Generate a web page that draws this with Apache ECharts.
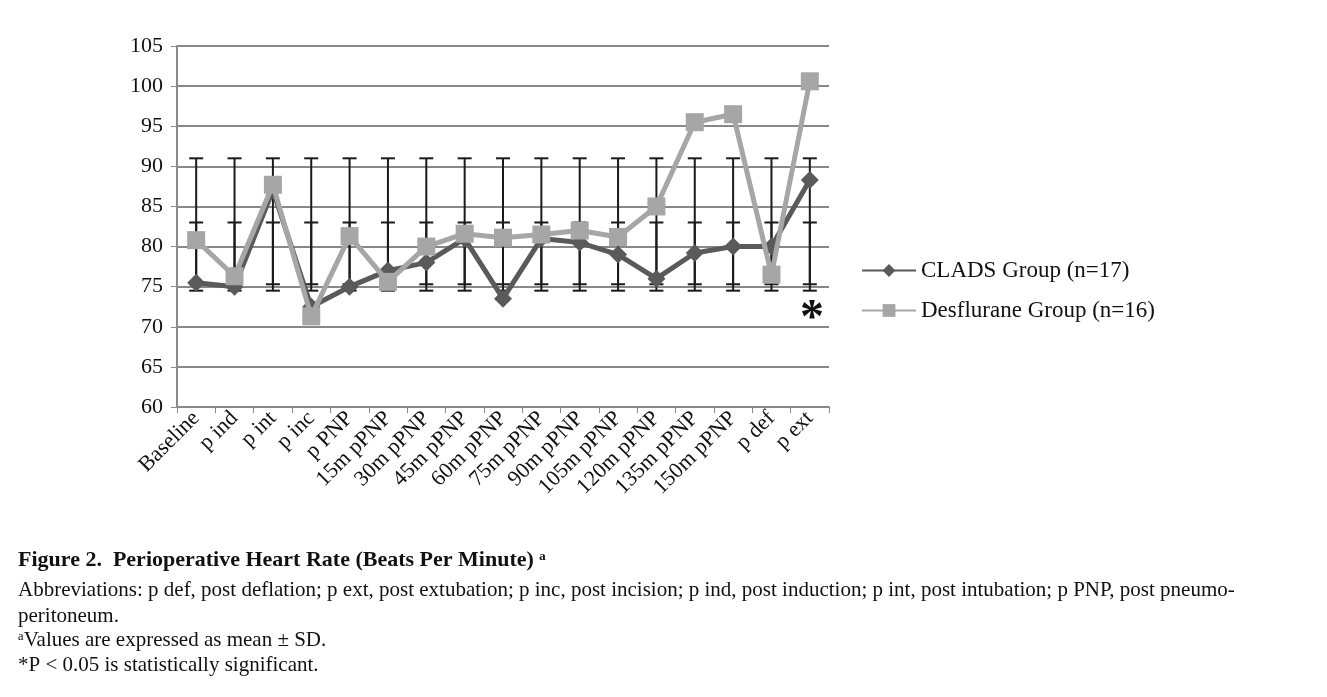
<!DOCTYPE html>
<html>
<head>
<meta charset="UTF-8">
<script src="https://cdn.jsdelivr.net/npm/echarts@6/dist/echarts.min.js"></script>
<style>body{margin:0;background:#fff}#main{width:1327px;height:697px}</style>
</head>
<body>
<div id="main"></div>
<script>
var categories = ['Baseline','p ind','p int','p inc','p PNP','15m pPNP','30m pPNP','45m pPNP','60m pPNP','75m pPNP','90m pPNP','105m pPNP','120m pPNP','135m pPNP','150m pPNP','p def','p ext'];
var clads = [75.5,75,87,72.5,75,77,78,81,73.5,81,80.5,79,76,79.2,80,80,88.3];
var desflurane = [80.8,76.3,87.7,71.3,81.3,75.6,80,81.6,81.1,81.5,82,81.2,85,95.5,96.5,76.5,100.6];
// error bar ranges (low, high) as drawn
var errA = [74.5, 91];
var errB = [75.3, 83];

var font = '"Liberation Serif", "Times New Roman", serif';
var chart = echarts.init(document.getElementById('main'));

function errItem(params, api) {
  var x = api.coord([api.value(0), api.value(1)])[0];
  var lo = api.coord([api.value(0), api.value(1)])[1];
  var hi = api.coord([api.value(0), api.value(2)])[1];
  var s = {stroke: '#1a1a1a', lineWidth: 2};
  return {type: 'group', children: [
    {type: 'line', shape: {x1: x, y1: lo, x2: x, y2: hi}, style: s},
    {type: 'line', shape: {x1: x - 7, y1: lo, x2: x + 7, y2: lo}, style: s},
    {type: 'line', shape: {x1: x - 7, y1: hi, x2: x + 7, y2: hi}, style: s}
  ]};
}

chart.setOption({
  animation: false,
  textStyle: {fontFamily: font},
  grid: {left: 177, right: 498, top: 46, bottom: 290},
  legend: {
    orient: 'vertical', left: 856, top: 254, itemGap: 17,
    itemWidth: 54, itemHeight: 16,
    textStyle: {fontFamily: font, fontSize: 23, color: '#111'},
    data: ['CLADS Group (n=17)', 'Desflurane Group (n=16)']
  },
  xAxis: {
    type: 'category', data: categories, boundaryGap: true,
    axisLine: {lineStyle: {color: '#888', width: 2}},
    axisTick: {show: true, length: 6, lineStyle: {color: '#888'}},
    axisLabel: {rotate: 45, fontSize: 22, color: '#111', fontFamily: font, interval: 0, margin: 8}
  },
  yAxis: {
    type: 'value', min: 60, max: 105, interval: 5,
    axisLine: {show: true, lineStyle: {color: '#888', width: 2}},
    axisTick: {show: true, length: 6, lineStyle: {color: '#888'}},
    axisLabel: {fontSize: 22, color: '#111', fontFamily: font, margin: 14},
    splitLine: {lineStyle: {color: '#888', width: 2}}
  },
  series: [
    {type: 'custom', renderItem: errItem, z: 1,
     data: categories.map(function (c, i) { return [i, errA[0], errA[1]]; })},
    {type: 'custom', renderItem: errItem, z: 1,
     data: categories.map(function (c, i) { return [i, errB[0], errB[1]]; })},
    {name: 'CLADS Group (n=17)', type: 'line', data: clads, z: 3,
     symbol: 'diamond', symbolSize: 18, itemStyle: {color: '#5a5a5a'},
     lineStyle: {color: '#5a5a5a', width: 5}},
    {name: 'Desflurane Group (n=16)', type: 'line', data: desflurane, z: 4,
     symbol: 'rect', symbolSize: 18, itemStyle: {color: '#a6a6a6'},
     lineStyle: {color: '#a6a6a6', width: 5}}
  ],
  graphic: [
    {type: 'text', left: 800, top: 296, style: {text: '*', font: 'bold 48px ' + font, fill: '#111'}},
    {type: 'text', left: 18, top: 549, style: {text: 'Figure 2.  Perioperative Heart Rate (Beats Per Minute) \u1d43', font: 'bold 22px ' + font, fill: '#111'}},
    {type: 'text', left: 18, top: 580, style: {text: 'Abbreviations: p def, post deflation; p ext, post extubation; p inc, post incision; p ind, post induction; p int, post intubation; p PNP, post pneumo-', font: '21px ' + font, fill: '#111'}},
    {type: 'text', left: 18, top: 606, style: {text: 'peritoneum.', font: '21px ' + font, fill: '#111'}},
    {type: 'text', left: 18, top: 630, style: {text: '\u1d43Values are expressed as mean \u00b1 SD.', font: '21px ' + font, fill: '#111'}},
    {type: 'text', left: 18, top: 655, style: {text: '*P < 0.05 is statistically significant.', font: '21px ' + font, fill: '#111'}}
  ]
});
</script>
</body>
</html>
